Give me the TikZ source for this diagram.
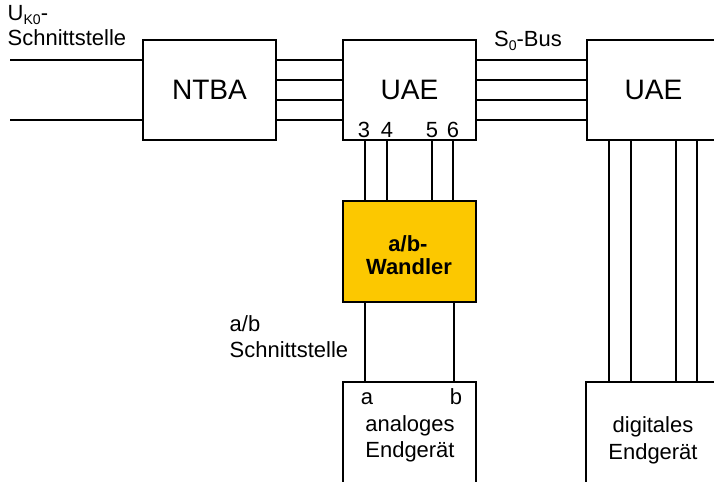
\documentclass[tikz,border=0pt]{standalone}
\usepackage{fontspec}
\setmainfont{Liberation Sans}
\usepackage{xcolor}
\usepackage{tikz}

\definecolor{wandlergelb}{RGB}{252,200,0}

\begin{document}
\begin{tikzpicture}[x=0.02cm, y=-0.02cm, line width=0.8pt,
    every node/.style={inner sep=0pt, font=\fontsize{12.5}{15}\selectfont},
    block/.style={draw, fill=white, minimum width=2.66cm, minimum height=2cm},
    big/.style={font=\fontsize{16}{19}\selectfont}]
  \useasboundingbox (0,0) rectangle (714,481);
  \clip (0,0) rectangle (714,481);
  % Kaesten
  \node[block, big] (ntba) at (209.5,90) {NTBA};
  \node[block, big] (uae)  at (409.5,90) {UAE};
  \node[block, big] (uae2) at (653.5,90) {UAE};
  \node[block, fill=wandlergelb, minimum height=2.02cm] (wandler) at (409.5,251.5) {};
  \node[block, minimum height=2.4cm] (analog)  at (409.5,442) {};
  \node[block, minimum height=2.4cm] (digital) at (652.5,442) {};
  % U_K0-Schnittstelle
  \coordinate (uk1) at (10,60);
  \coordinate (uk2) at (10,120);
  \draw (uk1) -- (ntba.west |- uk1);
  \draw (uk2) -- (ntba.west |- uk2);
  \node[anchor=base west] (uklabel) at (7,20) {U\raisebox{-0.35ex}{\fontsize{8}{9}\selectfont K0}-};
  \node[anchor=base west] (ukschnitt) at (7,45) {Schnittstelle};
  % Leitungen NTBA - UAE - UAE
  \foreach \y in {60,80,100,120} {
    \draw (ntba.east |- 0,\y) -- (uae.west |- 0,\y);
    \draw (uae.east |- 0,\y) -- (uae2.west |- 0,\y);
  }
  \node (sobus) at (528,41) {S\raisebox{-0.35ex}{\fontsize{8}{9}\selectfont 0}-Bus};
  % Anschluesse 3 4 5 6
  \foreach \x/\n in {364/3,387/4,432/5,453/6}
    \node[anchor=base] (pin\n) at (\x,137) {\n};
  \foreach \x in {365,387,432,453}
    \draw (uae.south -| \x,0) -- (wandler.north -| \x,0);
  \node[anchor=base, font=\fontsize{12.5}{15}\selectfont\bfseries] (wtext1) at (408,251) {a/b-};
  \node[anchor=base, font=\fontsize{12.5}{15}\selectfont\bfseries] (wtext2) at (409,274) {Wandler};
  % a/b-Schnittstelle
  \foreach \x in {365,454}
    \draw (wandler.south -| \x,0) -- (analog.north -| \x,0);
  \node[anchor=base west] (ablabel) at (229,331) {a/b};
  \node[anchor=base west] (abschnitt) at (229,357) {Schnittstelle};
  \node[anchor=base] (pina) at (367,404) {a};
  \node[anchor=base] (pinb) at (456,404) {b};
  \node[anchor=base] (antext1) at (410,431) {analoges};
  \node[anchor=base] (antext2) at (410,457) {Endger\"at};
  % digitales Endgeraet
  \foreach \x in {609,631,676,697}
    \draw (uae2.south -| \x,0) -- (digital.north -| \x,0);
  \node[anchor=base] (digtext1) at (653,432) {digitales};
  \node[anchor=base] (digtext2) at (653,459) {Endger\"at};
\end{tikzpicture}
\end{document}
